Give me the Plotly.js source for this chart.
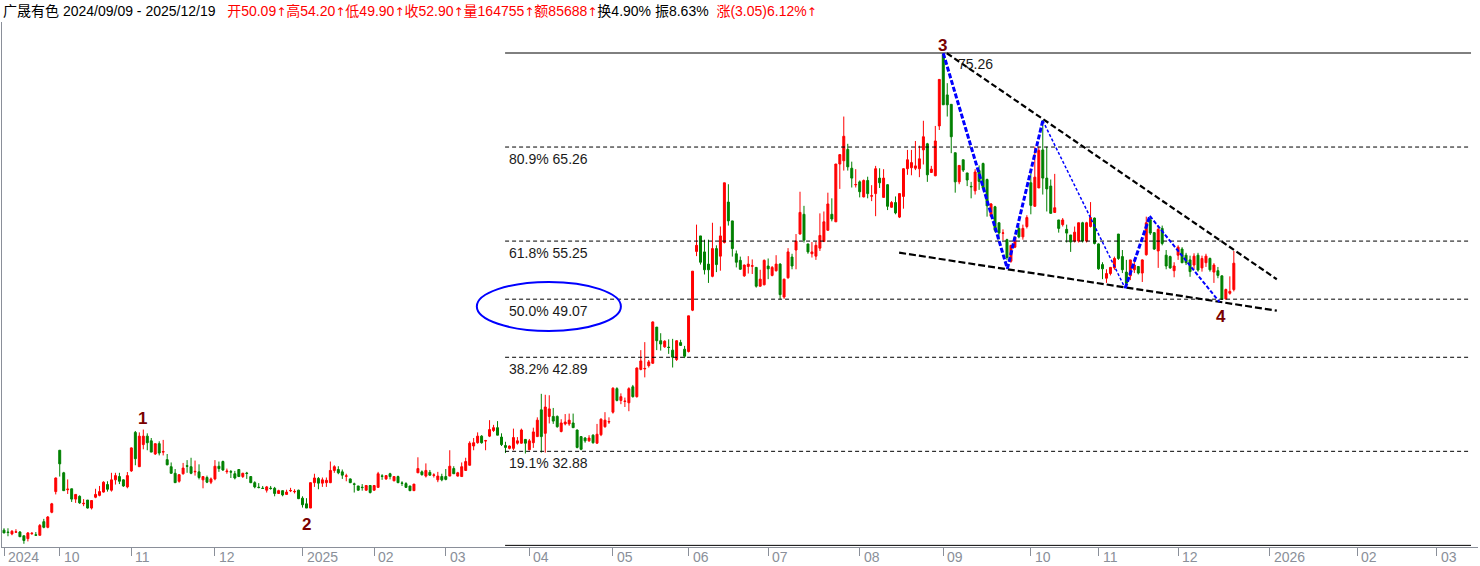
<!DOCTYPE html>
<html>
<head>
<meta charset="utf-8">
<script src="https://cdn.plot.ly/plotly-3.0.1.min.js"></script>
<style>html,body{margin:0;padding:0;background:#fff;}#chart{width:1480px;height:566px;}</style>
</head>
<body>
<div id="chart"></div>
<script>
// ---- Daily OHLC of 广晟有色, 2024/09/09 - 2025/12/19 (one value per trading day) ----
const open = [
24.5,24.3,24.1,24.28,24.3,23.9,23.6,24.12,24.0,23.95,25.4,24.8,26.4,28.6,33.0,30.6,28.8,28.9,27.8,28.1,
27.3,27.7,26.85,28.0,28.2,28.55,29.35,28.75,29.85,30.2,29.85,29.1,30.8,34.9,31.25,33.6,34.5,34.0,32.6,33.7,
32.8,32.0,31.25,30.55,29.7,30.5,31.35,31.25,30.7,30.7,29.85,30.1,29.6,29.95,31.3,31.8,30.72,30.72,30.5,30.95,
30.2,30.57,30.2,29.55,29.07,28.97,28.75,28.97,28.95,28.4,28.7,28.3,28.68,28.58,28.75,27.9,27.3,26.85,29.55,30.0,
29.5,29.55,29.55,30.85,30.95,30.7,30.23,29.95,29.42,29.2,29.07,28.75,29.25,28.75,29.05,30.27,29.95,30.5,29.75,30.2,
29.52,29.45,29.2,28.7,30.6,30.7,30.25,30.65,30.33,29.85,30.2,30.2,30.25,31.05,30.25,30.2,30.85,31.4,33.45,33.8,
34.5,33.98,34.5,35.1,35.4,34.4,33.5,33.2,33.2,33.75,33.75,34.15,33.05,33.8,34.45,37.3,34.8,36.6,36.6,36.6,
35.0,35.8,35.8,35.9,35.15,34.45,34.3,34.0,34.6,33.75,34.65,35.5,36.0,37.05,39.55,38.3,38.18,38.05,39.75,38.7,
41.6,41.65,42.0,42.25,46.1,44.65,44.0,43.97,43.65,42.65,44.45,43.75,43.5,47.9,54.15,55.8,54.1,52.8,51.5,54.45,
53.65,55.1,59.4,57.4,53.9,53.2,51.55,52.55,52.58,52.45,50.45,50.6,52.6,51.6,52.1,52.8,49.3,51.35,53.55,54.3,
56.0,58.1,54.95,53.9,53.65,54.5,55.2,56.4,58.1,57.3,63.45,63.8,65.0,63.0,61.23,61.55,59.95,61.7,60.03,60.3,
61.95,59.9,61.25,58.85,59.35,57.8,60.0,62.95,63.05,63.0,62.95,64.95,65.6,62.55,62.2,67.5,75.1,70.8,69.8,64.65,
61.55,63.9,62.5,61.07,60.6,62.75,63.5,61.8,57.9,58.9,57.2,56.08,55.4,53.1,54.6,56.6,55.7,56.8,61.45,58.95,
60.9,64.95,61.95,61.1,58.3,57.5,57.0,56.5,55.9,55.25,55.25,57.2,55.25,56.8,57.7,54.95,52.75,51.3,51.8,52.4,
56.0,53.6,51.95,51.55,52.2,52.55,51.85,53.8,57.5,56.15,54.2,56.6,53.75,53.6,52.1,53.75,54.4,53.75,53.25,52.7,
53.75,52.4,52.95,53.4,51.95,52.1,51.55,49.1,49.7,50.09
];
const high = [
24.7,24.7,24.5,24.6,24.4,23.9,24.3,24.3,24.3,25.15,25.7,26.0,27.4,30.1,33.0,30.7,29.9,28.9,28.3,28.2,
27.8,27.7,27.7,28.9,29.2,29.7,29.7,30.6,30.6,30.6,29.9,30.68,33.3,35.05,34.9,35.2,34.8,34.3,33.7,33.95,
34.1,32.6,31.7,31.0,30.45,31.65,31.95,32.2,31.9,31.5,30.2,30.3,30.1,31.95,31.8,31.9,31.05,30.9,30.8,31.0,
30.6,30.7,30.2,29.7,29.5,29.2,29.2,29.2,29.1,28.8,28.7,28.8,29.0,28.85,28.8,28.1,27.9,29.55,30.5,30.15,
30.1,30.1,31.8,31.4,31.3,30.95,30.5,30.0,29.55,29.2,29.4,29.3,29.3,29.3,30.7,30.45,30.3,30.6,30.2,30.3,
29.7,29.6,29.2,29.4,32.25,30.85,31.6,30.9,30.55,30.7,30.5,31.0,33.0,31.3,30.7,31.7,32.2,33.95,34.3,34.9,
34.6,34.1,36.2,35.7,36.1,34.8,33.9,33.5,35.3,34.4,35.3,34.2,34.2,35.4,36.5,39.0,38.9,38.85,37.5,36.7,
36.3,36.85,36.9,36.9,35.2,34.5,34.4,34.6,34.7,35.8,36.4,37.05,36.5,39.7,39.7,39.05,38.6,39.7,39.95,41.8,
43.65,44.5,42.6,46.7,46.1,45.45,44.7,44.8,44.85,44.7,44.75,44.1,47.3,52.05,57.0,55.8,55.4,55.4,57.2,54.8,
56.8,61.45,61.3,57.4,54.25,53.6,52.75,53.65,53.3,52.5,52.2,53.3,53.4,52.6,53.75,52.9,51.25,54.5,53.9,56.0,
60.5,59.0,54.95,55.15,55.2,58.2,58.4,60.4,59.8,63.45,64.45,68.5,65.6,63.7,62.9,61.7,61.8,62.1,61.2,63.25,
63.0,62.9,61.3,59.5,60.0,60.3,63.0,64.95,64.95,65.9,65.4,68.05,65.7,63.25,67.5,72.45,75.26,72.05,69.8,64.65,
63.3,63.9,62.5,61.55,62.9,63.3,63.6,61.9,59.3,59.0,57.2,56.5,55.5,54.85,55.8,56.9,57.0,58.0,62.45,65.3,
65.3,68.13,65.3,61.8,62.4,57.5,57.7,57.0,55.9,56.8,57.2,57.3,57.3,59.4,57.75,55.0,53.0,52.25,52.5,53.6,
56.0,54.3,53.25,53.25,53.4,52.6,53.3,57.85,57.7,56.2,56.9,56.9,54.3,53.7,53.0,54.8,54.6,54.0,53.7,53.95,
54.0,53.7,53.9,53.5,52.9,52.5,51.6,50.2,51.5,54.2
];
const low = [
24.2,23.85,23.96,24.2,23.8,23.05,23.3,24.0,23.9,23.95,24.7,24.7,26.3,28.3,30.2,28.7,28.35,27.5,27.4,27.3,
27.05,26.8,26.7,27.9,28.1,28.5,28.6,28.6,29.35,29.4,29.1,28.95,30.7,31.4,31.25,33.1,33.0,32.8,32.5,32.45,
32.45,31.4,30.5,29.55,29.55,30.4,30.6,30.45,30.3,29.9,28.95,29.5,29.4,29.8,30.7,30.8,30.5,30.05,29.9,30.15,
30.05,29.95,29.5,28.95,28.95,28.9,28.5,28.8,28.1,28.35,28.1,28.3,28.55,28.4,27.8,26.9,26.85,26.85,29.1,28.85,
29.1,29.1,29.5,30.6,30.45,29.95,29.7,29.5,28.5,28.7,28.7,28.7,28.4,28.7,29.0,29.85,29.85,29.9,29.7,29.5,
29.2,29.0,28.65,28.7,30.6,30.3,30.1,30.3,30.1,29.6,29.7,29.8,30.25,30.5,30.2,30.2,30.8,31.4,33.0,33.7,
33.7,33.0,34.4,34.95,34.6,33.45,32.7,33.1,33.0,33.6,33.7,32.65,33.0,33.25,34.45,32.75,32.75,35.85,35.8,35.4,
34.9,35.65,35.6,35.4,33.2,33.0,33.8,33.9,33.7,33.7,34.5,35.4,35.8,36.9,38.2,37.9,37.6,37.15,38.6,38.6,
41.5,40.75,41.8,42.2,43.65,43.6,43.9,43.25,41.8,42.5,44.1,42.8,43.4,47.8,53.65,52.75,51.7,50.8,51.4,51.95,
52.1,55.0,56.9,53.6,52.45,52.2,51.45,51.8,51.75,50.3,50.4,50.55,51.2,51.5,52.0,49.05,49.1,51.25,52.25,52.25,
55.95,55.1,53.9,53.5,53.25,54.2,55.2,56.35,57.35,57.3,60.8,62.75,62.75,60.95,60.95,59.9,59.9,59.8,59.5,57.9,
60.9,59.9,58.55,58.8,58.1,57.7,58.7,62.3,62.25,62.8,62.05,63.4,61.55,62.5,62.15,67.07,69.75,68.5,64.6,60.4,
61.3,62.6,61.1,59.8,60.2,60.7,60.8,57.85,57.8,56.2,55.4,55.35,53.25,52.95,54.5,55.55,55.4,56.6,58.1,58.9,
60.9,60.2,58.4,58.2,58.25,56.15,56.8,55.1,54.1,55.1,55.1,55.1,55.1,56.7,54.9,52.2,51.2,50.8,51.6,52.2,
53.25,51.85,50.4,51.1,51.85,51.7,50.9,53.7,55.9,54.3,52.4,54.8,52.25,52.3,51.4,53.25,52.9,52.7,51.45,52.25,
52.0,52.0,52.5,52.0,50.8,51.3,49.0,49.0,49.55,49.9
];
const close = [
24.2,24.25,24.38,24.32,23.8,23.4,24.2,24.16,23.96,25.0,24.8,25.9,27.3,30.05,31.55,28.7,28.86,27.8,28.3,27.4,
27.35,26.85,27.65,28.3,28.6,29.6,28.85,29.85,30.3,29.7,29.2,30.3,33.25,32.1,34.5,34.5,33.8,32.8,33.7,32.7,
32.85,31.45,30.55,29.55,30.4,31.1,31.3,30.55,30.75,30.1,30.2,29.6,29.95,31.3,31.05,30.9,30.78,30.68,30.05,30.2,
30.55,30.53,29.55,29.1,29.03,28.93,29.1,28.93,28.4,28.7,28.25,28.55,28.72,28.62,27.85,27.2,26.85,29.55,30.05,29.5,
29.85,29.8,30.85,31.25,30.6,30.35,30.27,29.55,29.38,28.75,29.03,29.25,28.5,29.25,30.5,30.23,30.3,30.2,30.2,29.55,
29.48,29.05,28.7,29.4,31.05,30.4,30.85,30.35,30.37,30.25,29.85,29.9,31.3,30.5,30.6,31.25,31.8,33.75,33.8,34.5,
33.8,34.02,35.2,35.4,34.6,33.6,33.3,33.45,34.35,34.0,35.15,33.75,34.0,34.95,36.2,34.45,37.6,37.4,36.1,35.5,
35.9,36.0,36.2,35.4,33.3,33.1,34.0,34.3,33.8,34.7,36.3,36.2,36.05,39.6,38.3,38.7,38.22,39.55,38.7,41.75,
42.5,41.7,42.4,46.65,44.65,44.3,44.6,43.93,42.9,44.65,44.15,43.0,47.3,52.05,54.8,53.0,52.2,52.2,54.45,52.75,
55.8,61.45,57.4,54.45,53.0,52.25,52.7,52.8,52.62,50.45,51.2,53.2,52.3,52.45,52.8,49.55,51.2,54.1,52.6,55.25,
58.3,55.35,54.1,54.1,54.8,55.85,57.3,59.2,57.6,63.45,64.45,66.4,63.15,61.95,61.27,60.5,61.7,60.3,60.07,62.95,
61.45,61.95,58.95,59.35,58.25,60.3,62.95,63.9,63.6,63.25,64.0,66.35,62.3,62.9,65.9,72.45,69.75,69.75,66.35,61.55,
63.3,62.8,61.75,61.03,62.6,61.6,60.9,59.0,59.2,56.4,56.1,56.12,53.5,54.8,55.6,55.7,56.6,57.75,59.05,62.05,
64.9,61.95,60.8,58.2,58.8,56.6,57.5,56.1,55.15,56.2,57.2,55.25,57.2,57.75,55.0,52.3,52.3,51.8,52.45,53.4,
53.4,52.2,50.75,53.25,52.7,51.85,53.25,57.2,56.1,54.4,56.5,55.0,52.6,52.4,52.6,54.6,52.95,52.95,52.0,53.65,
52.17,53.4,53.65,52.2,52.7,51.6,49.05,50.1,49.9,52.9
];

// ---- month ticks (trading-day index of first session of each month) ----
const tickIndex = [0,14,32,53,75,93,111,132,153,172,192,215,236,258,275,295,318,340,360];
const tickLabels = ['2024','10','11','12','2025','02','03','04','05','06','07','08','09','10','11','12','2026','02','03'];

// ---- Fibonacci retracement (swing low 22.88 -> swing high 75.26) ----
const fibLow = 22.88, fibHigh = 75.26;
const fibRatios = [1, 0.809, 0.618, 0.5, 0.382, 0.191, 0];
const fibStartIdx = 125.9, fibEndIdx = 368.6;

// ---- wave count labels ----
const waveLabels = ['1','2','3','4'];
const waveLabelIdx = [34.9, 75.9, 235.9, 305.8];
const waveLabelPrice = [36.43, 25.15, 76.11, 47.28];

// ---- blue zig-zag (swing points) ----
const zigIdx = [236.0, 252.1, 261.0, 281.7, 287.9, 305.4];
const zigPrice = [75.23, 52.31, 68.06, 50.23, 57.92, 48.77];
const zigWidth = [3, 3, 1.5, 3, 2];
const zigDash = ['5px,2px','5px,2px','3px,2px','5px,2px','4px,2px'];

// ---- falling wedge trend lines ----
const upperLineIdx = [236.9, 319.8], upperLinePrice = [75.23, 51.19];
const lowerLineIdx = [224.9, 319.8], lowerLinePrice = [54.02, 47.85];

// ---- ellipse around the 50% level ----
const ellipseIdx = [118.8, 155.0], ellipsePrice = [45.69, 50.9];

const idx = open.map((_, i) => i);

const traces = [{
  type: 'candlestick',
  x: idx, open: open, high: high, low: low, close: close,
  increasing: {line: {color: '#ff0000', width: 1}, fillcolor: '#ff0000'},
  decreasing: {line: {color: '#008000', width: 1}, fillcolor: '#008000'},
  whiskerwidth: 0,
  hoverinfo: 'none',
  showlegend: false
}];

const shapes = [];
const annotations = [];
const baseFont = 'Liberation Sans, Arial, Noto Sans CJK SC, sans-serif';

fibRatios.forEach(r => {
  const lvl = fibLow + r * (fibHigh - fibLow);
  const solid = (r === 1 || r === 0);
  shapes.push({type: 'line', xref: 'x', yref: 'y', x0: fibStartIdx, x1: fibEndIdx, y0: lvl, y1: lvl,
    line: {color: '#000', width: 1, dash: solid ? 'solid' : '4px,3px'}});
  if (!solid) {
    annotations.push({xref: 'x', yref: 'y', x: fibStartIdx + 0.4, y: lvl, xanchor: 'left', yanchor: 'top',
      yshift: -2, showarrow: false, text: (r * 100).toFixed(1) + '% ' + lvl.toFixed(2),
      font: {family: baseFont, size: 14, color: '#1a1a1a'}});
  }
});
annotations.push({xref: 'x', yref: 'y', x: 239.3, y: fibHigh, xanchor: 'left', yanchor: 'top', yshift: -1,
  showarrow: false, text: fibHigh.toFixed(2), font: {family: baseFont, size: 14, color: '#1a1a1a'}});

// wedge lines
shapes.push({type: 'line', xref: 'x', yref: 'y', x0: upperLineIdx[0], x1: upperLineIdx[1], y0: upperLinePrice[0], y1: upperLinePrice[1],
  line: {color: '#000', width: 2.2, dash: '6px,3px'}});
shapes.push({type: 'line', xref: 'x', yref: 'y', x0: lowerLineIdx[0], x1: lowerLineIdx[1], y0: lowerLinePrice[0], y1: lowerLinePrice[1],
  line: {color: '#000', width: 2.2, dash: '7px,3px'}});

// zigzag
for (let k = 0; k < zigIdx.length - 1; k++) {
  shapes.push({type: 'line', xref: 'x', yref: 'y', x0: zigIdx[k], x1: zigIdx[k + 1], y0: zigPrice[k], y1: zigPrice[k + 1],
    line: {color: '#0000ff', width: zigWidth[k], dash: zigDash[k]}});
}

// ellipse
shapes.push({type: 'circle', xref: 'x', yref: 'y', x0: ellipseIdx[0], x1: ellipseIdx[1], y0: ellipsePrice[0], y1: ellipsePrice[1],
  line: {color: '#0000ff', width: 2}});

// wave labels
waveLabels.forEach((t, k) => {
  annotations.push({xref: 'x', yref: 'y', x: waveLabelIdx[k], y: waveLabelPrice[k], showarrow: false, text: '<b>' + t + '</b>',
    font: {family: baseFont, size: 17, color: '#7a0000'}});
});

// month labels
tickIndex.forEach((ti, k) => {
  annotations.push({xref: 'x', yref: 'paper', x: ti, y: 0, xanchor: 'left', yanchor: 'top', xshift: 2, yshift: 0,
    showarrow: false, text: tickLabels[k], font: {family: baseFont, size: 14, color: '#8a8f99'}});
});

const red = '#ff0000';
const up = '<span style="font-family:DejaVu Sans;font-size:12px">↑</span>';
const titleText =
  '广晟有色 2024/09/09 - 2025/12/19&nbsp;&nbsp; ' +
  '<span style="color:' + red + '">开50.09' + up + '高54.20' + up + '低49.90' + up + '收52.90' + up +
  '量164755' + up + '额85688' + up + '</span>' +
  '换4.90% 振8.63%&nbsp; ' +
  '<span style="color:' + red + '">涨(3.05)6.12%' + up + '</span>';

const layout = {
  width: 1480, height: 566,
  margin: {l: 2, r: 2, t: 22, b: 19, pad: 0},
  paper_bgcolor: '#ffffff', plot_bgcolor: '#ffffff',
  showlegend: false,
  title: {text: titleText, x: 3 / 1480, xref: 'container', xanchor: 'left', y: 1 - 11 / 566, yref: 'container', yanchor: 'middle',
    font: {family: baseFont, size: 14, color: '#000'}},
  xaxis: {range: [-0.5025, 370.35], showgrid: false, zeroline: false, rangeslider: {visible: false},
    tickmode: 'array', tickvals: tickIndex, ticktext: tickLabels, showticklabels: false,
    ticks: 'outside', ticklen: 8, tickcolor: '#8a8f99', tickwidth: 1,
    showline: true, linecolor: '#8a8f99', linewidth: 1, fixedrange: true},
  yaxis: {range: [22.706, 78.558], showgrid: false, zeroline: false, showticklabels: false, ticks: '',
    showline: true, linecolor: '#8a8f99', linewidth: 1, fixedrange: true},
  shapes: shapes,
  annotations: annotations,
  hovermode: false
};

Plotly.newPlot('chart', traces, layout, {displayModeBar: false, staticPlot: true});
</script>
</body>
</html>
